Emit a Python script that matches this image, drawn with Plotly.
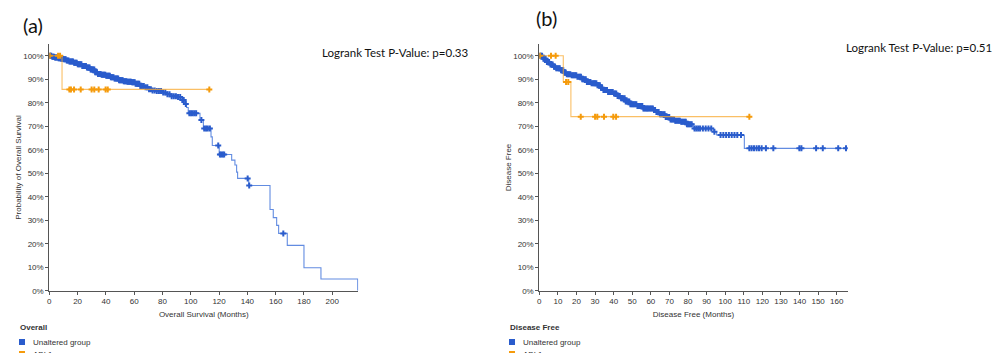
import numpy as np
import plotly.graph_objects as go

# ---------------- Panel (a): Overall survival ----------------
os_unalt_t = [0, 2, 4, 6, 8, 10, 12, 14, 17, 20, 23, 26, 29, 32, 34, 37, 40, 43, 46, 49,
              52, 55, 58, 61, 64, 67, 70, 73, 76, 80, 83, 86, 90, 94, 95.5, 97, 98.2,
              106.5, 108.9, 114.3, 115.2, 120.1, 128.9, 131.2, 132.4, 133.1, 141, 156,
              158.3, 160.7, 162.1, 168.2, 180, 192, 218]
os_unalt_s = [100, 99.6, 99.3, 99.0, 98.8, 98.5, 98.0, 97.6, 97.0, 96.4, 95.7, 95.0, 94.2,
              93.0, 92.3, 91.9, 91.5, 90.9, 90.3, 89.6, 89.2, 89.0, 88.7, 88.1, 87.2, 86.6,
              85.8, 85.2, 85.0, 84.4, 83.6, 82.8, 82.5, 81.2, 79.5, 78.0, 75.5, 72.7, 69.1,
              65.5, 61.8, 58.0, 55.6, 53.5, 50.5, 47.8, 44.8, 34.6, 31.1, 27.8, 24.4, 19.3,
              9.8, 5.0, 0]
os_unalt_cens_t = [0.3, 0.8, 1.4, 2.1, 2.7, 3.3, 4.0, 4.6, 5.2, 5.9, 6.5, 7.1, 7.8, 8.4, 9.0,
                   9.7, 10.3, 11.0, 11.6, 12.3, 12.9, 13.6, 14.2, 14.9, 15.5, 16.2, 16.8, 17.5,
                   18.1, 18.8, 19.4, 20.1, 20.7, 21.4, 22.0, 22.7, 23.3, 24.0, 24.6, 25.3, 25.9,
                   26.6, 27.2, 27.9, 28.5, 29.2, 29.8, 30.5, 31.1, 31.8, 32.4, 33.1, 33.7, 34.4,
                   35.0, 35.7, 36.3, 37.0, 37.6, 38.3, 38.9, 39.6, 40.2, 40.9, 41.5, 42.2, 42.8,
                   43.5, 44.1, 44.8, 45.4, 46.1, 46.7, 47.4, 48.0, 48.7, 49.3, 50.0, 50.6, 51.3,
                   51.9, 52.6, 53.2, 53.9, 54.5, 55.2, 55.8, 56.5, 57.1, 57.8, 58.4, 59.1, 59.7,
                   60.4, 61.0, 61.7, 62.3, 63.0, 63.6, 64.3, 65.5, 66.8, 68.0, 69.3, 70.5, 71.8,
                   73.0, 74.5, 76.0, 77.5, 79.0, 80.5, 82.0, 83.5, 85.0, 86.5, 88.0, 89.5, 91.0,
                   92.5, 94.0, 95.0, 96.5, 99.0, 100.2, 101.4, 102.6, 103.8, 107.5, 109.5, 110.8,
                   112.0, 113.5, 119.4, 120.6, 121.6, 122.6, 123.6, 140.2, 141.3, 165.4]

os_abl1_t = [0, 9, 113.1]
os_abl1_s = [100, 85.7, 85.7]
os_abl1_cens_t = [0.3, 6.2, 7.6, 14.2, 15.3, 17.5, 22.2, 29.9, 31.8, 34.9, 39.8, 41.3, 113.1]

# ---------------- Panel (b): Disease free ----------------
df_unalt_t = [0, 2, 4, 6, 7.5, 9, 11.1, 13, 14.7, 17, 20.1, 23, 25.5, 28, 30.9, 33, 34.4,
              37, 39.8, 42, 43.4, 46, 48.8, 52.4, 55.9, 61.3, 63, 64.9, 67.5, 70.3, 73,
              75.7, 79.3, 82.8, 93.6, 95.4, 110.3, 165.9]
df_unalt_s = [100, 98.8, 97.4, 96.3, 95.3, 94.7, 93.9, 92.8, 92.2, 91.7, 91.1, 90.0, 88.9,
              88.3, 87.5, 86.4, 85.4, 84.6, 84.0, 82.9, 81.9, 80.6, 79.4, 78.6, 77.6, 76.9,
              76.1, 75.1, 74.0, 72.9, 72.3, 71.9, 70.9, 69.1, 67.7, 66.3, 60.6, 60.6]
df_unalt_cens_t = [0.3, 0.9, 1.5, 2.2, 2.8, 3.4, 4.1, 4.7, 5.3, 6.0, 6.6, 7.2, 7.9, 8.5, 9.1,
                   9.8, 10.4, 11.0, 11.7, 12.3, 12.9, 13.6, 14.2, 14.8, 15.5, 16.1, 16.7,
                   17.4, 18.0, 18.6, 19.3, 19.9, 20.5, 21.2, 21.8, 22.4, 23.1, 23.7, 24.3,
                   25.0, 25.6, 26.2, 26.9, 27.5, 28.1, 28.8, 29.4, 30.0, 30.7, 31.3, 31.9,
                   32.6, 33.2, 33.8, 34.5, 35.1, 35.7, 36.4, 37.0, 37.6, 38.3, 38.9, 39.5,
                   40.2, 40.8, 41.4, 42.1, 42.7, 43.3, 44.0, 44.6, 45.2, 45.9, 46.5, 47.1,
                   47.8, 48.4, 49.0, 49.7, 50.3, 50.9, 51.6, 52.2, 52.8, 53.5, 54.1, 54.7,
                   55.4, 56.0, 56.6, 57.3, 57.9, 58.5, 59.2, 59.8, 60.4, 61.1, 61.7, 62.3,
                   63.0, 63.6, 64.2, 64.9, 65.5, 66.1, 66.8, 67.4, 68.0, 68.7, 69.3, 69.9,
                   70.6, 71.2, 71.8, 72.5, 73.1, 73.7, 74.4, 75.0, 75.6, 76.3, 76.9, 77.5,
                   78.2, 78.8, 79.4, 80.1, 80.7, 81.3, 82.0, 83.5, 84.5, 85.5, 86.5, 88.0,
                   89.5, 91.0, 92.5, 94.2, 97.5, 99.0, 100.5, 102.0, 103.5, 105.0, 106.5,
                   108.5, 113.0, 114.2, 115.5, 116.9, 118.2, 119.6, 121.9, 125.9, 139.9,
                   141.0, 148.9, 152.5, 160.8, 165.0]

df_abl1_t = [0, 12.9, 17.0, 113.0]
df_abl1_s = [100, 88.9, 74.1, 74.1]
df_abl1_cens_t = [0.3, 6.3, 8.8, 14.4, 15.6, 22.3, 30.0, 31.2, 34.8, 39.8, 41.3, 113.0]

x_ticks_a = [0, 20, 40, 60, 80, 100, 120, 140, 160, 180, 200]
x_ticks_b = [0, 10, 20, 30, 40, 50, 60, 70, 80, 90, 100, 110, 120, 130, 140, 150, 160]
y_ticks = [0, 10, 20, 30, 40, 50, 60, 70, 80, 90, 100]
y_tick_labels = ["0%", "10%", "20%", "30%", "40%", "50%", "60%", "70%", "80%", "90%", "100%"]

BLUE_LINE = "rgba(70,120,220,0.85)"
BLUE_MARK = "#2a5ccc"
ORANGE_LINE = "rgba(248,170,50,0.75)"
ORANGE_MARK = "#f59b0c"
FONT = "Liberation Sans, Arial, sans-serif"
CAL = "Lato, Open Sans, sans-serif"


def step_lookup(t_steps, s_steps, t_query):
    t_steps = np.asarray(t_steps)
    s_steps = np.asarray(s_steps)
    idx = np.searchsorted(t_steps, np.asarray(t_query), side="right") - 1
    idx = np.clip(idx, 0, len(s_steps) - 1)
    return s_steps[idx]


fig = go.Figure()


def add_group(t, s, ct, xa, ya, lc, mc):
    fig.add_trace(go.Scatter(x=t, y=s, mode="lines", line=dict(color=lc, width=1.1, shape="hv"),
                             xaxis=xa, yaxis=ya, showlegend=False, hoverinfo="skip"))
    fig.add_trace(go.Scatter(x=ct, y=step_lookup(t, s, ct), mode="markers",
                             marker=dict(symbol="cross", size=5, color=mc, line=dict(width=0)),
                             xaxis=xa, yaxis=ya, showlegend=False, hoverinfo="skip"))


add_group(os_unalt_t, os_unalt_s, os_unalt_cens_t, "x", "y", BLUE_LINE, BLUE_MARK)
add_group(os_abl1_t, os_abl1_s, os_abl1_cens_t, "x", "y", ORANGE_LINE, ORANGE_MARK)
add_group(df_unalt_t, df_unalt_s, df_unalt_cens_t, "x2", "y2", BLUE_LINE, BLUE_MARK)
add_group(df_abl1_t, df_abl1_s, df_abl1_cens_t, "x2", "y2", ORANGE_LINE, ORANGE_MARK)

W, H = 1005, 353


def px_x(p):
    return p / W


def px_y(p):
    return (H - p) / H


axis_common = dict(showgrid=False, zeroline=False, showline=True, linecolor="#555", linewidth=1,
                   ticks="outside", ticklen=3, tickcolor="#555", automargin=False,
                   tickfont=dict(family=FONT, size=8, color="#333"))

y_dom = [px_y(290.7), px_y(44.3)]
title_font = dict(family=FONT, size=8, color="#333")

fig.update_layout(
    width=W, height=H, margin=dict(l=0, r=0, t=0, b=0, pad=0),
    paper_bgcolor="white", plot_bgcolor="white",
    xaxis=dict(domain=[px_x(49.3), px_x(358.3)], range=[0, 218.4], tickvals=x_ticks_a,
               anchor="y", title=dict(text="Overall Survival (Months)", standoff=6,
                                      font=title_font), **axis_common),
    yaxis=dict(domain=y_dom, range=[0, 104.9], tickvals=y_ticks, ticktext=y_tick_labels,
               anchor="x", title=dict(text="Probability of Overall Survival", standoff=0,
                                      font=title_font), **axis_common),
    xaxis2=dict(domain=[px_x(539.3), px_x(847.7)], range=[0, 165.9], tickvals=x_ticks_b,
                anchor="y2", title=dict(text="Disease Free (Months)", standoff=6,
                                        font=title_font), **axis_common),
    yaxis2=dict(domain=y_dom, range=[0, 104.9], tickvals=y_ticks, ticktext=y_tick_labels,
                anchor="x2", title=dict(text="Disease Free", standoff=0,
                                        font=title_font), **axis_common),
)

ann = []
ann.append(dict(text="(a)", x=px_x(21), y=px_y(25), xref="paper", yref="paper",
                xanchor="left", yanchor="middle", showarrow=False,
                font=dict(family=CAL, size=20, color="#111")))
ann.append(dict(text="(b)", x=px_x(534), y=px_y(18), xref="paper", yref="paper",
                xanchor="left", yanchor="middle", showarrow=False,
                font=dict(family=CAL, size=20, color="#111")))
ann.append(dict(text="Logrank Test P-Value: p=0.33", x=px_x(320), y=px_y(52), xref="paper",
                yref="paper", xanchor="left", yanchor="middle", showarrow=False,
                font=dict(family=CAL, size=11.5, color="#111")))
ann.append(dict(text="Logrank Test P-Value: p=0.51", x=px_x(844), y=px_y(47), xref="paper",
                yref="paper", xanchor="left", yanchor="middle", showarrow=False,
                font=dict(family=CAL, size=11.5, color="#111")))

shapes = []
for x0, title in [(18, "Overall"), (508, "Disease Free")]:
    ann.append(dict(text="<b>" + title + "</b>", x=px_x(x0), y=px_y(327), xref="paper",
                    yref="paper", xanchor="left", yanchor="middle", showarrow=False,
                    font=dict(family=FONT, size=8, color="#333")))
    for yy, lab, col in [(342, "Unaltered group", BLUE_MARK), (354, "ABL1", ORANGE_MARK)]:
        ann.append(dict(text=lab, x=px_x(x0 + 13), y=px_y(yy), xref="paper", yref="paper",
                        xanchor="left", yanchor="middle", showarrow=False,
                        font=dict(family=FONT, size=8, color="#333")))
        shapes.append(dict(type="rect", xref="paper", yref="paper", x0=px_x(x0 + 1),
                           x1=px_x(x0 + 7), y0=px_y(yy + 3), y1=px_y(yy - 3),
                           fillcolor=col, line=dict(width=0)))

fig.update_layout(annotations=ann, shapes=shapes)
fig.write_html("out.html", config={"displayModeBar": False},
               post_script="document.body.style.margin='0';document.body.style.overflow='hidden';")
